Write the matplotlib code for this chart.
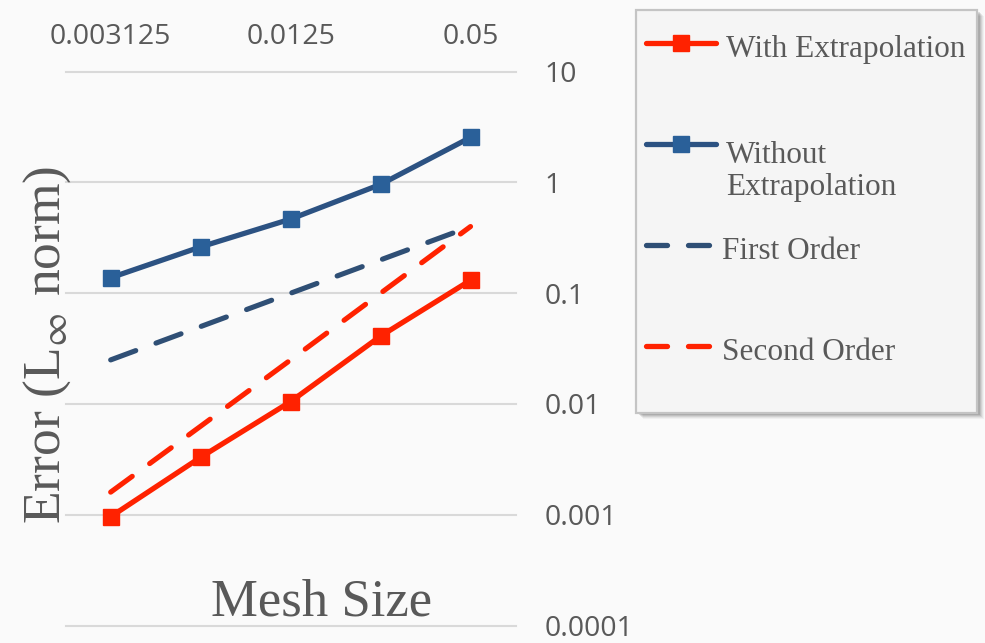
import matplotlib
matplotlib.use("Agg")
import matplotlib.pyplot as plt
from matplotlib.lines import Line2D
from matplotlib.patches import Rectangle

# ---- data ----
mesh_size = [0.003125, 0.00625, 0.0125, 0.025, 0.05]
with_extrap = [0.00096, 0.0033, 0.0105, 0.041, 0.131]
without_extrap = [0.138, 0.262, 0.467, 0.96, 2.55]
first_order = [0.025, 0.05, 0.1, 0.2, 0.4]
second_order = [0.0016, 0.0063, 0.025, 0.1, 0.4]
x_tick_vals = [0.003125, 0.0125, 0.05]
x_tick_labels = ["0.003125", "0.0125", "0.05"]
y_tick_vals = [0.0001, 0.001, 0.01, 0.1, 1, 10]
y_tick_labels = ["0.0001", "0.001", "0.01", "0.1", "1", "10"]
legend_labels = ["With Extrapolation", "Without\nExtrapolation", "First Order", "Second Order"]

W, H = 985, 643
RED = "#ff2200"
BLUE_LINE = "#2c5282"
BLUE_MARK = "#2a6099"
BLUE_DASH = "#2f4f75"
TXT = "#595959"
BG = "#fafafa"

plt.rcParams["mathtext.fontset"] = "stix"

fig = plt.figure(figsize=(W / 100, H / 100), dpi=100, facecolor=BG)

def fx(x):
    return x / W

def fy(y):
    return 1 - y / H

left, right, top, bottom = 65.7, 515.5, 71.7, 625.5
ax = fig.add_axes([fx(left), fy(bottom), fx(right) - fx(left), fy(top) - fy(bottom)])
ax.set_facecolor("none")
ax.set_xscale("log", base=2)
ax.set_yscale("log")
ax.set_xlim(mesh_size[0] / 2 ** 0.5, mesh_size[-1] * 2 ** 0.5)
ax.set_ylim(y_tick_vals[0], y_tick_vals[-1])

dash = (5.2, 4.2)
ax.plot(mesh_size, first_order, color=BLUE_DASH, lw=3.7, dashes=dash,
        dash_capstyle="round", zorder=3)
ax.plot(mesh_size, second_order, color=RED, lw=3.7, dashes=dash,
        dash_capstyle="round", zorder=3)
ax.plot(mesh_size, without_extrap, color=BLUE_LINE, lw=3.8, marker="s",
        markersize=11, markerfacecolor=BLUE_MARK, markeredgecolor=BLUE_MARK,
        solid_capstyle="round", zorder=4)
ax.plot(mesh_size, with_extrap, color=RED, lw=3.8, marker="s",
        markersize=11, markerfacecolor=RED, markeredgecolor=RED,
        solid_capstyle="round", zorder=4)

for s in ax.spines.values():
    s.set_visible(False)

ax.xaxis.tick_top()
ax.set_xticks(x_tick_vals)
ax.set_xticklabels(x_tick_labels)
ax.xaxis.set_minor_locator(matplotlib.ticker.NullLocator())
ax.tick_params(axis="x", length=0, pad=15, labelsize=20.5, labelcolor=TXT)
for t in ax.get_xticklabels():
    t.set_fontfamily("Open Sans")

ax.yaxis.tick_right()
ax.set_yticks(y_tick_vals)
ax.set_yticklabels(y_tick_labels)
ax.yaxis.set_minor_locator(matplotlib.ticker.NullLocator())
ax.tick_params(axis="y", length=0, pad=21, labelsize=20.5, labelcolor=TXT)
for t in ax.get_yticklabels():
    t.set_fontfamily("Open Sans")
    t.set_horizontalalignment("left")

ax.grid(axis="y", color="#d9d9d9", lw=1.5)
for gl in ax.get_ygridlines():
    gl.set_clip_on(False)
ax.set_axisbelow(True)

# axis titles
fig.text(fx(322), fy(615), "Mesh Size", ha="center", va="baseline",
         fontsize=38, family="Liberation Serif", color=TXT)
fig.text(fx(60), fy(345), "Error (L$_{\\infty}$ norm)", ha="center", va="baseline",
         rotation=90, rotation_mode="anchor", fontsize=38.5,
         family="Liberation Serif", color=TXT)

# legend box (manual)
lx0, ly0, lx1, ly1 = 636, 10, 977, 413
for i, a in enumerate([0.04, 0.05, 0.07, 0.09, 0.11]):
    off = 6 - i
    fig.patches.append(Rectangle((fx(lx0 + off + 1), fy(ly1 + off)),
                                 fx(lx1 - lx0), fy(ly0) - fy(ly1),
                                 transform=fig.transFigure, facecolor="#000000",
                                 alpha=a, edgecolor="none", zorder=1))
fig.patches.append(Rectangle((fx(lx0), fy(ly1)), fx(lx1 - lx0), fy(ly0) - fy(ly1),
                             transform=fig.transFigure, facecolor="#f5f5f5",
                             edgecolor="#c4c4c4", lw=1.6, zorder=2))

handles = [
    dict(y=43, color=RED, mfc=RED, marker="s", dashed=False),
    dict(y=144, color=BLUE_LINE, mfc=BLUE_MARK, marker="s", dashed=False),
    dict(y=245, color=BLUE_DASH, mfc=None, marker=None, dashed=True),
    dict(y=346, color=RED, mfc=None, marker=None, dashed=True),
]
text_pos = [(726, 56.7), (726, 195), (722.5, 259.3), (722.5, 360)]
for h, lab, (tx, ty) in zip(handles, legend_labels, text_pos):
    if h["dashed"]:
        for xa, xb in [(646, 667), (688, 709)]:
            fig.lines.append(Line2D([fx(xa), fx(xb)], [fy(h["y"])] * 2,
                                    transform=fig.transFigure, color=h["color"],
                                    lw=3.8, solid_capstyle="round", zorder=3))
    else:
        fig.lines.append(Line2D([fx(646), fx(716)], [fy(h["y"])] * 2,
                                transform=fig.transFigure, color=h["color"],
                                lw=3.8, solid_capstyle="round", zorder=3))
        fig.lines.append(Line2D([fx(681)], [fy(h["y"])], transform=fig.transFigure,
                                marker="s", markersize=11, color=h["mfc"],
                                lw=0, zorder=4))
    fig.text(fx(tx), fy(ty), lab, ha="left", va="baseline", fontsize=22.5,
             family="Liberation Serif", color=TXT, linespacing=1.13, zorder=5)

fig.savefig("out.png", dpi=100, facecolor=BG)
